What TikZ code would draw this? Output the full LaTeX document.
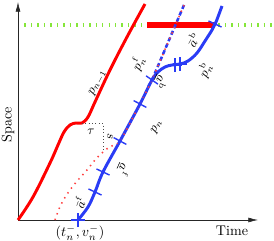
\documentclass[tikz,border=0pt]{standalone}
\usepackage{tikz}
\usetikzlibrary{arrows.meta,positioning,shapes.misc}
\usepackage{xcolor}
\usepackage{amsmath}
\definecolor{TrajRed}{HTML}{FF0000}
\definecolor{TrajBlue}{HTML}{2A3CF5}
\definecolor{Lime}{HTML}{86E63A}
\tikzset{
  axisline/.style={-{Latex[length=2.4mm,width=1.2mm]}, thin, draw=black!85},
  prevtraj/.style={draw=TrajRed, line width=2.1pt},
  curtraj/.style={draw=TrajBlue, line width=2.1pt},
  freetraj/.style={draw=TrajRed!75, line width=1.1pt, dash pattern=on 1pt off 3.2pt},
  freeline/.style={draw=TrajBlue, line width=1.8pt, dash pattern=on 3pt off 2pt},
  crossmark/.style={cross out, draw=TrajBlue, line width=1pt, minimum size=2.2mm, inner sep=0pt},
  curvelabel/.style={inner sep=1pt, font=\small},
  guide/.style={dotted, thin, draw=black!70},
  limitline/.style={draw=Lime, line width=3.4pt, dash pattern=on 1pt off 3.6pt},
  blockbar/.style={draw=TrajRed, line width=3.8pt}
}
\begin{document}
\begin{tikzpicture}[x=0.25mm,y=0.25mm]
\useasboundingbox (0,0) rectangle (274,241);
\coordinate (O) at (18,21);
\coordinate (ytop) at (18,239);
\coordinate (xend) at (258,21);
\coordinate (lim1) at (18,216);
\coordinate (lim2) at (273,216);
\coordinate (bar1) at (147,216);
\coordinate (bar2) at (215,216);
\coordinate (hump) at (82,118);
\coordinate (corner) at (103,118);
\coordinate (foot) at (103,90);
\coordinate (ftop) at (184,236);

\draw[limitline] (lim1) -- (lim2);
\draw[axisline] (O) -- (ytop);
\draw[axisline] (O) -- (xend);
\node[rotate=90] (space) at (8,116) {Space};
\node (time) at (232,10) {Time};
\node (start) at (80,8) {$(t_n^-,v_n^-)$};

\draw[blockbar] (bar1) -- (bar2);
\draw[prevtraj] plot[smooth, tension=0.6] coordinates {(18,21) (33,44) (50,78) (58,96) (64,109) (70,116) (76,118) (82,118) (88,124) (95,139) (110,171) (127,204) (145,237)};
\draw[guide] (hump) -- (corner) -- (foot);
\draw[curtraj] plot[smooth, tension=0.6] coordinates {(78,21) (88,34) (95,49) (103,69) (120,100) (140,137) (152,161) (158,169) (165,174) (172,176) (180,177) (188,180) (197,188) (205,200) (212,211) (216,219) (222,235)};
\draw[freeline] (152,161) -- (ftop);
\draw[freetraj] plot[smooth, tension=0.6] coordinates {(55,21) (59,32) (64,42) (70,51) (78,61) (87,71) (95,81) (103,89) (111,95) (120,100) (140,137) (152,161)} -- (ftop);

\node[crossmark, rotate=45] (m1) at (78,21) {};
\node[crossmark, rotate=110] (m2) at (95,49) {};
\node[crossmark, rotate=110] (m3) at (103,69) {};
\node[crossmark, rotate=107] (m4) at (120,100) {};
\node[crossmark, rotate=107] (m5) at (140,137) {};
\node[crossmark, rotate=100] (m6) at (152,161) {};
\node[crossmark, rotate=45] (m7) at (175,176) {};
\node[crossmark, rotate=45] (m8) at (180,177) {};
\node[crossmark, rotate=110] (m9) at (215,217) {};

\node[curvelabel, rotate=62] (lprev) at (98,158) {$p_{n-1}$};
\node[curvelabel, rotate=65] (lfree) at (138,178) {$p_n^{\mathrm{f}}$};
\node[curvelabel, rotate=-115] (lamin) at (160,159) {$\underline{a}^{\mathrm{b}}$};
\node[curvelabel, rotate=60] (lamax) at (193,201) {$\bar{a}^{\mathrm{b}}$};
\node[curvelabel, rotate=65] (lback) at (205,171) {$p_n^{\mathrm{b}}$};
\node[curvelabel, rotate=60] (lcur) at (157,114) {$p_n$};
\node[curvelabel, rotate=70] (lfmax) at (80,39) {$\bar{a}^{\mathrm{f}}$};
\node[curvelabel, rotate=-115] (lfmin) at (123,71) {$\underline{a}^{\mathrm{f}}$};
\node[curvelabel] (ltau) at (91,109) {$\tau$};
\node[curvelabel, rotate=-90] (lgap) at (110,104) {$s$};
\end{tikzpicture}
\end{document}
